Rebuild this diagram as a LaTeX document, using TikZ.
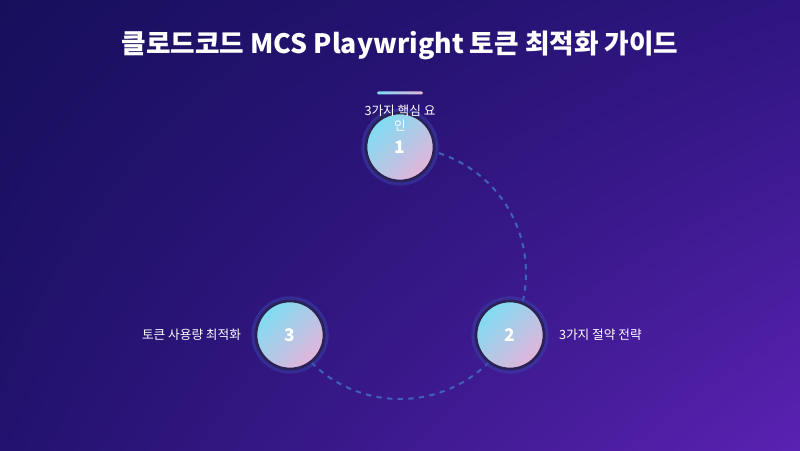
\documentclass[tikz,border=0pt]{standalone}
\usepackage{fontspec}
\usetikzlibrary{positioning,shadings}
\setmainfont{Noto Sans CJK KR}
\definecolor{bgtl}{HTML}{170F5C}
\definecolor{bgbr}{HTML}{5A22B2}
\definecolor{bgtr}{HTML}{2E1580}
\definecolor{bgbl}{HTML}{22126E}
\definecolor{cyanish}{HTML}{7EDDF2}
\definecolor{pinkish}{HTML}{E4B4DA}
\definecolor{ringcol}{HTML}{2A2154}
\definecolor{glowcol}{HTML}{3A3FA8}
\definecolor{dashcol}{HTML}{3F63B8}
\tikzset{
  stepcirc/.style={circle, minimum size=51, inner sep=0, draw=ringcol, line width=2,
    left color=cyanish, right color=pinkish, shading angle=45,
    text=white, font=\bfseries\fontsize{13}{15}\selectfont},
  glow/.style={circle, minimum size=58, inner sep=0, fill=glowcol, opacity=0.55},
  lbl/.style={text=white, font=\fontsize{9.5}{11}\selectfont},
  link/.style={dashcol, line width=1.5, dash pattern=on 4pt off 4pt}
}
\begin{document}
\begin{tikzpicture}[x=0.75pt,y=0.75pt]
  % background
  \shade[upper left=bgtl, upper right=bgtr, lower left=bgbl, lower right=bgbr] (0,0) rectangle (800,450);
  \useasboundingbox (0,0) rectangle (800,450);
  % title
  \node[text=white, font=\bfseries\fontsize{20}{24}\selectfont] (title) at (400,405) {클로드코드 MCS Playwright 토큰 최적화 가이드};
  \shade[left color=cyanish, right color=pinkish, rounded corners=1] (377,355.5) rectangle (423,358.5);
  % connections
  \coordinate (c) at (400,177);
  \draw[link] (c) ++(72:126) arc[start angle=72, end angle=-13, radius=126];
  \draw[link] (c) ++(-45:126) arc[start angle=-45, end angle=-136, radius=126];
  % steps
  \node[glow] at (400,303) {};
  \node[glow] at (510,115) {};
  \node[glow] at (290,115) {};
  \node[stepcirc] (s1) at (400,303) {1};
  \node[stepcirc] (s2) at (510,115) {2};
  \node[stepcirc] (s3) at (290,115) {3};
  \node[lbl, align=center] (l1) at (400,332) {3가지 핵심 요\\인};
  \node[lbl, right=9 of s2] (l2) {3가지 절약 전략};
  \node[lbl, left=9 of s3] (l3) {토큰 사용량 최적화};
\end{tikzpicture}
\end{document}
